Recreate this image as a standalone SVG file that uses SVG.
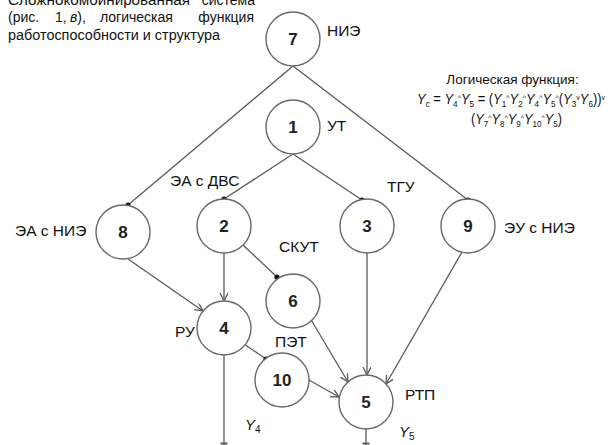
<svg xmlns="http://www.w3.org/2000/svg" width="611" height="445" viewBox="0 0 611 445">
<defs>
<style>
.nd circle{fill:#fff;stroke:#6a6a6a;stroke-width:1.4}
.num{font-family:"Liberation Sans",Arial,sans-serif;font-weight:bold;font-size:17px;fill:#222;text-anchor:middle}
.lbl{font-family:"Liberation Sans",Arial,sans-serif;font-size:15.5px;fill:#111}
.t{font-family:"Liberation Sans",Arial,sans-serif;font-size:14px;fill:#111}
.f{font-family:"Liberation Sans",Arial,sans-serif;fill:#111}
.e line{stroke:#5a5a5a;stroke-width:1.3;fill:none}
.dot{fill:#111}
.i{font-style:italic}
</style>
<marker id="ar" markerUnits="userSpaceOnUse" markerWidth="10" markerHeight="10" refX="8" refY="4" orient="auto">
<path d="M0,0 L8,4 L0,8" fill="none" stroke="#5a5a5a" stroke-width="1.3"/>
</marker>
</defs>
<rect width="611" height="445" fill="#fff"/>

<g id="title" class="t">
<text x="8" y="5" textLength="182" lengthAdjust="spacingAndGlyphs">Сложнокомбинированная</text>
<text x="255" y="5" text-anchor="end">система</text>
<text y="22"><tspan x="8">(рис.</tspan><tspan x="55">1,</tspan><tspan x="70" class="i">в</tspan><tspan>),</tspan><tspan x="100">логическая</tspan></text>
<text x="254" y="22" text-anchor="end">функция</text>
<text x="8" y="40" textLength="212" lengthAdjust="spacingAndGlyphs">работоспособности и структура</text>
</g>

<g id="formula" class="f">
<text x="512.5" y="84" font-size="13.5" text-anchor="middle">Логическая функция:</text>
<text x="417" y="104" font-size="15" textLength="188" lengthAdjust="spacingAndGlyphs"><tspan class="i">Y</tspan><tspan class="i" font-size="9.5" baseline-shift="-3">c</tspan> = <tspan class="i">Y</tspan><tspan font-size="9.5" baseline-shift="-3">4</tspan><tspan font-size="8" baseline-shift="4">^</tspan><tspan class="i">Y</tspan><tspan font-size="9.5" baseline-shift="-3">5</tspan> = (<tspan class="i">Y</tspan><tspan font-size="9.5" baseline-shift="-3">1</tspan><tspan font-size="8" baseline-shift="4">^</tspan><tspan class="i">Y</tspan><tspan font-size="9.5" baseline-shift="-3">2</tspan><tspan font-size="8" baseline-shift="4">^</tspan><tspan class="i">Y</tspan><tspan font-size="9.5" baseline-shift="-3">4</tspan><tspan font-size="8" baseline-shift="4">^</tspan><tspan class="i">Y</tspan><tspan font-size="9.5" baseline-shift="-3">5</tspan><tspan font-size="8" baseline-shift="4">^</tspan>(<tspan class="i">Y</tspan><tspan font-size="9.5" baseline-shift="-3">3</tspan><tspan font-size="8" baseline-shift="4">v</tspan><tspan class="i">Y</tspan><tspan font-size="9.5" baseline-shift="-3">6</tspan>))<tspan font-size="8" baseline-shift="4">v</tspan></text>
<text x="471" y="124" font-size="15" textLength="91" lengthAdjust="spacingAndGlyphs">(<tspan class="i">Y</tspan><tspan font-size="9.5" baseline-shift="-3">7</tspan><tspan font-size="8" baseline-shift="4">^</tspan><tspan class="i">Y</tspan><tspan font-size="9.5" baseline-shift="-3">8</tspan><tspan font-size="8" baseline-shift="4">^</tspan><tspan class="i">Y</tspan><tspan font-size="9.5" baseline-shift="-3">9</tspan><tspan font-size="8" baseline-shift="4">^</tspan><tspan class="i">Y</tspan><tspan font-size="9.5" baseline-shift="-3">10</tspan><tspan font-size="8" baseline-shift="4">^</tspan><tspan class="i">Y</tspan><tspan font-size="9.5" baseline-shift="-3">5</tspan>)</text>
</g>

<g id="connectors" class="e">
<line x1="293" y1="66" x2="128" y2="205"/>
<line x1="293" y1="66" x2="468" y2="200"/>
<line x1="293" y1="154" x2="224" y2="199"/>
<line x1="293" y1="154" x2="362" y2="200"/>
<line x1="224" y1="253" x2="224" y2="301" marker-end="url(#ar)"/>
<line x1="243" y1="245" x2="277" y2="277"/>
<line x1="128" y1="259" x2="203" y2="311" marker-end="url(#ar)"/>
<line x1="310" y1="318" x2="348" y2="382" marker-end="url(#ar)"/>
<line x1="367" y1="253" x2="367" y2="375" marker-end="url(#ar)"/>
<line x1="462" y1="252" x2="386" y2="384" marker-end="url(#ar)"/>
<line x1="244" y1="344" x2="266" y2="359"/>
<line x1="309" y1="380" x2="339" y2="397" marker-end="url(#ar)"/>
<line x1="224" y1="355" x2="224" y2="445"/>
<line x1="366" y1="429" x2="366" y2="445"/>
<line x1="220.5" y1="443.5" x2="227.5" y2="443.5" style="stroke-width:2"/>
<line x1="362.5" y1="443.5" x2="369.5" y2="443.5" style="stroke-width:2"/>
<circle class="dot" cx="128" cy="205" r="2.6"/>
<circle class="dot" cx="468" cy="200" r="2.6"/>
<circle class="dot" cx="224" cy="199" r="2.6"/>
<circle class="dot" cx="362" cy="200" r="2.6"/>
<circle class="dot" cx="277" cy="277" r="2.6"/>
<circle class="dot" cx="266" cy="359" r="2.6"/>
</g>

<g id="n7" class="nd"><circle cx="293" cy="39" r="27"/><text class="num" x="293" y="45">7</text><text class="lbl" x="327" y="36">НИЭ</text></g>
<g id="n1" class="nd"><circle cx="293" cy="127" r="27"/><text class="num" x="293" y="133">1</text><text class="lbl" x="327" y="131">УТ</text></g>
<g id="n2" class="nd"><circle cx="224" cy="226" r="27"/><text class="num" x="224" y="232">2</text><text class="lbl" x="170" y="186">ЭА с ДВС</text></g>
<g id="n3" class="nd"><circle cx="367" cy="226" r="27"/><text class="num" x="367" y="232">3</text><text class="lbl" x="387" y="192">ТГУ</text></g>
<g id="n8" class="nd"><circle cx="123" cy="232" r="27"/><text class="num" x="123" y="238">8</text><text class="lbl" x="15" y="236">ЭА с НИЭ</text></g>
<g id="n9" class="nd"><circle cx="468" cy="226" r="27"/><text class="num" x="468" y="232">9</text><text class="lbl" x="504" y="233">ЭУ с НИЭ</text></g>
<g id="n6" class="nd"><circle cx="293" cy="301" r="27"/><text class="num" x="293" y="307">6</text><text class="lbl" x="279" y="252">СКУТ</text></g>
<g id="n4" class="nd"><circle cx="224" cy="328" r="27"/><text class="num" x="224" y="334">4</text><text class="lbl" x="175" y="337">РУ</text></g>
<g id="n10" class="nd"><circle cx="282" cy="380" r="27"/><text class="num" x="282" y="386">10</text><text class="lbl" x="275" y="347">ПЭТ</text></g>
<g id="n5" class="nd"><circle cx="366" cy="402" r="27"/><text class="num" x="366" y="408">5</text><text class="lbl" x="405" y="400">РТП</text></g>

<g id="outputs" class="f">
<text x="245" y="430" font-size="15"><tspan class="i">Y</tspan><tspan font-size="10" baseline-shift="-3">4</tspan></text>
<text x="399" y="437" font-size="15"><tspan class="i">Y</tspan><tspan font-size="10" baseline-shift="-3">5</tspan></text>
</g>
</svg>
